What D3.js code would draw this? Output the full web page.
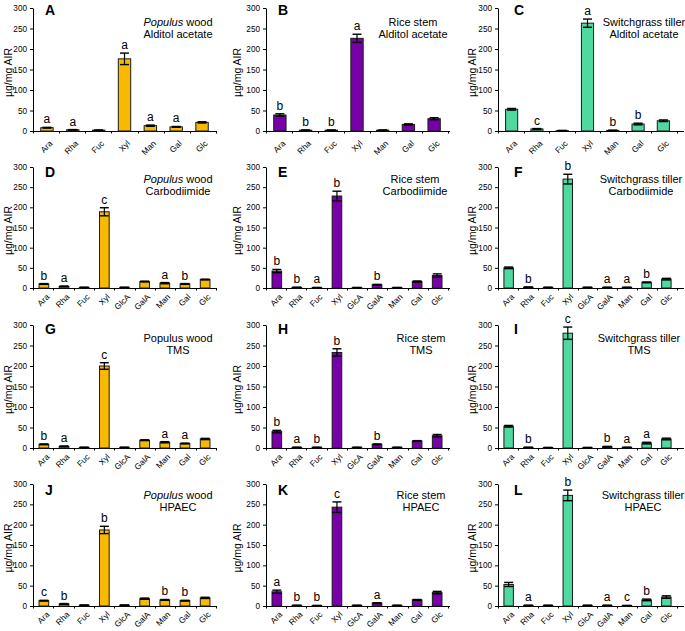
<!DOCTYPE html>
<html><head><meta charset="utf-8">
<script src="https://cdn.jsdelivr.net/npm/d3@7"></script>
<style>
html,body{margin:0;padding:0;background:#fff;}
text{font-family:"Liberation Sans",Arial,Helvetica,sans-serif;fill:#000;}
</style></head>
<body>
<svg id="chart" width="685" height="631"></svg>
<script>
// ---------- DATA ----------
const cats7 = ["Ara","Rha","Fuc","Xyl","Man","Gal","Glc"];
const cats9 = ["Ara","Rha","Fuc","Xyl","GlcA","GalA","Man","Gal","Glc"];
const yTicks = [0,50,100,150,200,250,300];
const panelIds = ["A","B","C","D","E","F","G","H","I","J","K","L"];
const sources = ["Populus wood","Rice stem","Switchgrass tiller"];
const methods = ["Alditol acetate","Carbodiimide","TMS","HPAEC"];
const yLabel = "µg/mg AIR";

const valA = [8,3,2,176,13,10,21];
const errA = [1,0.5,0.5,14,1.5,1,1.5];
const letA = ["a","a","","a","a","a",""];
const valB = [39,2,2,226,2,16,30];
const errB = [3,0.5,0.5,10,0.5,1.5,2.5];
const letB = ["b","b","b","a","","",""];
const valC = [53,5,1,263,1.5,17,25];
const errC = [2,1,0.5,10,0.5,2,2];
const letC = ["","c","","a","b","b",""];

const valD = [10,4,1.5,189,1.5,16,12,10,21];
const errD = [1,1,0.5,10,0.5,1,1.5,1,1];
const letD = ["b","a","","c","","","a","b",""];
const valE = [42,1.5,1,228,1,8,1,16,31];
const errE = [4,0.5,0.5,12,0.5,1,0.5,1.5,4];
const letE = ["b","b","a","b","","b","","",""];
const valF = [50,2,1.5,270,1.5,1.5,1.5,14,22];
const errF = [2,0.5,0.5,12,0.5,0.5,0.5,1,2];
const letF = ["","b","","b","","a","a","b",""];

const valG = [9,4,1.5,200,1.5,19,14,11,22];
const errG = [1,1,0.5,8,0.5,1,1.5,1,1.5];
const letG = ["b","a","","c","","","a","a",""];
const valH = [40,1.5,1.5,233,1.5,9,1.5,17,30];
const errH = [3,0.5,0.5,9,0.5,1,0.5,1,3];
const letH = ["b","a","b","b","","b","","",""];
const valI = [53,1.5,1,280,1,3,1.5,12,22];
const errI = [2,0.5,0.5,15,0.5,1,0.5,2,2];
const letI = ["","b","","c","","b","a","a",""];

const valJ = [13,5,2,187,2,18,15,13,20];
const errJ = [1,1,0.5,9,0.5,1.5,1,1,1.5];
const letJ = ["c","b","","b","","","b","b",""];
const valK = [35,1.5,1,243,1.5,7,1.5,15,33];
const errK = [4,0.5,0.5,13,0.5,1,0.5,1,3];
const letK = ["a","b","b","c","","a","","",""];
const valL = [53,1.5,1.5,272,1.5,1.5,1,15,22];
const errL = [5,0.5,0.5,13,0.5,0.5,0.5,2,3];
const letL = ["","a","","b","","a","c","b",""];

const allVals = [valA,valB,valC,valD,valE,valF,valG,valH,valI,valJ,valK,valL];
const allErrs = [errA,errB,errC,errD,errE,errF,errG,errH,errI,errJ,errK,errL];
const allLets = [letA,letB,letC,letD,letE,letF,letG,letH,letI,letJ,letK,letL];

// ---------- LAYOUT ----------
const colColors = ["#F8BA00","#7800A8","#4FD8A0"];
const colX0 = [33, 266, 498];
const colX1 = [216, 448, 677];
const colAxisEnd = [216, 450, 684];
const colYLabelX = [8, 237, 472];
const colLetterX = [45, 278, 514];
const rowTop = [8, 167, 325, 484];
const rowBot = [131, 288, 448, 606];
const rowLetterY = [15, 177, 334, 495];
const rowTitleY = [25.5, 182.5, 342.3, 499.3];
const rowCatOffset = [11, 7.5, 7.5, 7];
const titleX = [178, 413, 644, 178, 415, 641, 178, 421, 639, 178, 421, 643];

const svg = d3.select("#chart");

panelIds.forEach((id, i) => {
  const row = Math.floor(i / 3), col = i % 3;
  const cats = row === 0 ? cats7 : cats9;
  const vals = allVals[i], errs = allErrs[i], lets = allLets[i];
  const x0 = colX0[col], x1 = colX1[col], yT = rowTop[row], yB = rowBot[row];
  const color = colColors[col];

  const x = d3.scaleBand().domain(cats).range([x0, x1]).paddingInner(0.52).paddingOuter(0.3);
  const y = d3.scaleLinear().domain([0, 300]).range([yB, yT]);
  const g = svg.append("g");

  // y axis
  const ya = g.append("g").attr("transform", `translate(${x0},0)`)
    .call(d3.axisLeft(y).tickValues(yTicks).tickSize(3).tickSizeOuter(0).tickPadding(3));
  ya.selectAll("path,line").attr("stroke", "#000").attr("stroke-width", 1);
  ya.selectAll("text").style("font-size", "8.2px").style("font-family", '"Liberation Sans",Arial,sans-serif');

  // x axis line + boundary ticks
  g.append("line").attr("x1", x0).attr("x2", colAxisEnd[col]).attr("y1", yB + 0.5).attr("y2", yB + 0.5)
    .attr("stroke", "#000").attr("stroke-width", 1);
  const step = (x1 - x0) / cats.length;
  d3.range(cats.length + 1).forEach(k => {
    const xx = Math.round(x0 + k * step) + 0.5;
    g.append("line").attr("x1", xx).attr("x2", xx).attr("y1", yB).attr("y2", yB + 2.5)
      .attr("stroke", "#000").attr("stroke-width", 1);
  });

  // category labels
  g.selectAll("text.cat").data(cats).enter().append("text")
    .attr("class", "cat")
    .attr("transform", d => `translate(${x(d) + x.bandwidth() / 2 + 4},${yB + rowCatOffset[row]}) rotate(-45)`)
    .attr("text-anchor", "end")
    .attr("dy", "0.35em")
    .style("font-size", "8.3px")
    .text(d => d);

  // bars
  g.selectAll("rect.bar").data(cats).enter().append("rect")
    .attr("class", "bar")
    .attr("x", d => x(d))
    .attr("width", x.bandwidth())
    .attr("y", (d, k) => y(vals[k]))
    .attr("height", (d, k) => yB - y(vals[k]))
    .attr("fill", color)
    .attr("stroke", "#1a1a1a").attr("stroke-width", 1);

  // error bars + significance letters
  const capW = 4.5;
  cats.forEach((c, k) => {
    const cx = x(c) + x.bandwidth() / 2;
    const hi = y(vals[k] + errs[k]), lo = y(Math.max(0, vals[k] - errs[k]));
    g.append("line").attr("x1", cx).attr("x2", cx).attr("y1", hi).attr("y2", lo)
      .attr("stroke", "#000").attr("stroke-width", 1.2);
    g.append("line").attr("x1", cx - capW).attr("x2", cx + capW).attr("y1", hi).attr("y2", hi)
      .attr("stroke", "#000").attr("stroke-width", 1.4);
    g.append("line").attr("x1", cx - capW).attr("x2", cx + capW).attr("y1", lo).attr("y2", lo)
      .attr("stroke", "#000").attr("stroke-width", 1.4);
    if (lets[k]) {
      g.append("text").attr("x", cx).attr("y", hi - 4)
        .attr("text-anchor", "middle").style("font-size", "12px").text(lets[k]);
    }
  });

  // y label
  g.append("text")
    .attr("transform", `translate(${colYLabelX[col]},${(yT + yB) / 2 + 3}) rotate(-90)`)
    .attr("text-anchor", "middle").attr("dy", "0.35em")
    .style("font-size", "10.5px").text(yLabel);

  // panel letter
  g.append("text").attr("x", colLetterX[col]).attr("y", rowLetterY[row])
    .style("font-size", "14px").style("font-weight", "bold").text(id);

  // title
  const t1 = g.append("text").attr("x", titleX[i]).attr("y", rowTitleY[row])
    .attr("text-anchor", "middle").style("font-size", "11px");
  if (col === 0 && row !== 2) {
    t1.append("tspan").style("font-style", "italic").text("Populus");
    t1.append("tspan").text(" wood");
  } else {
    t1.text(sources[col]);
  }
  g.append("text").attr("x", titleX[i]).attr("y", rowTitleY[row] + 12)
    .attr("text-anchor", "middle").style("font-size", "11px").text(methods[row]);
});
</script>
</body></html>
